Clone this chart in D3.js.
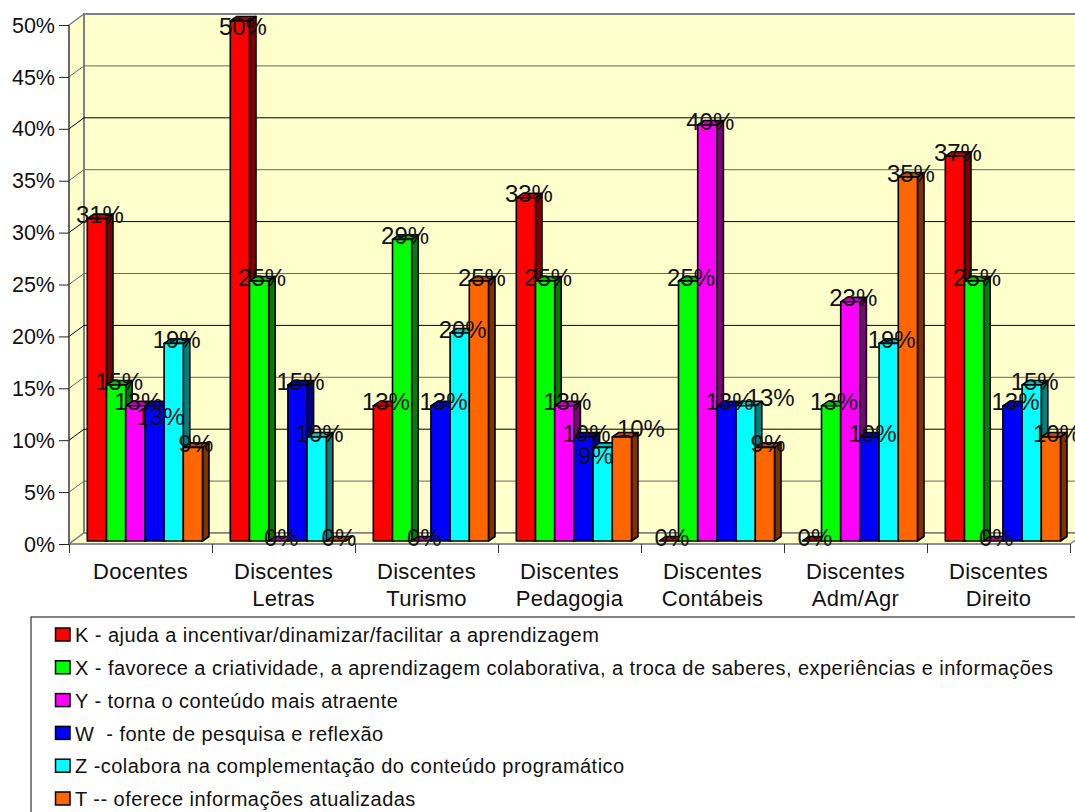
<!DOCTYPE html>
<html><head><meta charset="utf-8">
<script src="https://cdn.jsdelivr.net/npm/d3@7"></script>
<style>html,body{margin:0;padding:0;background:#fff;overflow:hidden}svg{display:block}text{font-family:"Liberation Sans",Arial,sans-serif;fill:#111;white-space:pre}</style>
</head><body><svg id="c" width="1075" height="812"></svg>
<script>
const categories = ["Docentes","Discentes\nLetras","Discentes\nTurismo","Discentes\nPedagogia","Discentes\nContábeis","Discentes\nAdm/Agr","Discentes\nDireito"];
const seriesNames = ["K - ajuda a incentivar/dinamizar/facilitar a aprendizagem",
 "X - favorece a criatividade, a aprendizagem colaborativa, a troca de saberes, experiências e informações",
 "Y - torna o conteúdo mais atraente",
 "W  - fonte de pesquisa e reflexão",
 "Z -colabora na complementação do conteúdo programático",
 "T -- oferece informações atualizadas"];
const K = [31,50,13,33,0,0,37];
const X = [15,25,29,25,25,13,25];
const Y = [13,0,0,13,40,23,0];
const W = [13,15,13,10,13,10,13];
const Z = [19,10,20,9,13,19,15];
const T = [9,0,25,10,9,35,10];
const seriesValues = [K,X,Y,W,Z,T];
const faceColors = ["#FF0000","#00FF00","#FF00FF","#0000FF","#00FFFF","#FF6600"];
const sideColors = ["#800000","#008000","#800080","#000080","#008080","#803300"];
const topColors  = ["#C00000","#00C000","#C000C0","#0000C0","#00C0C0","#C04D00"];
const yTicks = [0,5,10,15,20,25,30,35,40,45,50];
// hand-moved data labels in the source: [series, category, dx, dy]
const labelNudges = [[3,0,3,15],[0,1,0,9],[4,4,22,-4],[5,3,16,-5],[4,3,-10,12],[5,6,3,0]];

const svg = d3.select("#c");
const x0=69,yFront0=544,yFront50=25,depthX=15,depthY=11,catW=143;
const x = d3.scaleBand().domain(d3.range(categories.length)).range([x0,x0+catW*categories.length]);
const yAxisS = d3.scaleLinear().domain([0,50]).range([yFront0,yFront50]);
const yBar = d3.scaleLinear().domain([0,50]).range([541,21]);
const inner = d3.scaleBand().domain(d3.range(6)).range([18.3,133.5]);
const xEnd = x.range()[1];

// walls
const wall="#FFFFCC", edge="#808080";
svg.append("path").attr("d",`M${x0},${yFront50}L${x0+depthX},${yFront50-depthY}V${yFront0-depthY}L${x0},${yFront0}Z`).attr("fill",wall).attr("stroke",edge).attr("stroke-width",1.5);
svg.append("rect").attr("x",x0+depthX).attr("y",yFront50-depthY).attr("width",xEnd-x0).attr("height",yFront0-yFront50).attr("fill",wall).attr("stroke",edge).attr("stroke-width",2);
svg.append("path").attr("d",`M${x0},${yFront0}L${x0+depthX},${yFront0-depthY}H${xEnd+depthX}L${xEnd},${yFront0}Z`).attr("fill",wall).attr("stroke",edge).attr("stroke-width",1.5);

// gridlines
yTicks.filter(t=>t>0&&t<50).forEach((t,i)=>{
  const yy=yAxisS(t);
  const c=i%2?"#000":"#666";
  svg.append("path").attr("d",`M${x0},${yy}L${x0+depthX},${yy-depthY}H${xEnd+depthX}`).attr("fill","none").attr("stroke",c).attr("stroke-width",1);
});

// axes
const yAx = svg.append("g").attr("transform",`translate(${x0},0)`).call(d3.axisLeft(yAxisS).tickValues(yTicks).tickSize(10).tickPadding(4).tickFormat(d=>d+"%"));
yAx.selectAll("text").attr("font-size",21.5).attr("dy","0.33em");
yAx.selectAll("line").attr("stroke","#222");
yAx.select(".domain").attr("stroke","#333").attr("d",`M0,${yFront50}V${yFront0}`);

const xLin = d3.scaleLinear().domain([0,7]).range([x0,xEnd]);
const xTick = svg.append("g").attr("transform",`translate(0,${yFront0})`).call(d3.axisBottom(xLin).ticks(7).tickSize(9).tickFormat(""));
xTick.selectAll("line").attr("stroke","#333");
xTick.select(".domain").attr("stroke","#808080").attr("d",`M${x0},0H${xEnd}`);

const xLab = svg.append("g").attr("transform",`translate(0,${yFront0})`).call(d3.axisBottom(x).tickSize(0).tickFormat(""));
xLab.select(".domain").remove();
xLab.selectAll(".tick").each(function(d){
  const g=d3.select(this);
  g.select("text").remove();
  categories[d].split("\n").forEach((s,i)=>{
    g.append("text").attr("text-anchor","middle").attr("y",35+i*27).attr("font-size",22).attr("letter-spacing",0.25).text(s);
  });
});

// bars
const dx=6.5, dy=4.5;
categories.forEach((c,j)=>{
  seriesValues.forEach((vals,i)=>{
    const v=vals[j], l=x(j)+inner(i), w=inner.bandwidth(), t=yBar(v), b=yBar(0);
    const g=svg.append("g").attr("stroke","#000").attr("stroke-width",1.6).attr("stroke-linejoin","round");
    g.append("path").attr("d",`M${l+w},${t}l${dx},${-dy}V${b-dy}l${-dx},${dy}Z`).attr("fill",sideColors[i]);
    g.append("path").attr("d",`M${l},${t}l${dx},${-dy}H${l+w+dx}l${-dx},${dy}Z`).attr("fill",topColors[i]);
    g.append("rect").attr("x",l).attr("y",t).attr("width",w).attr("height",b-t).attr("fill",faceColors[i]);
  });
});

// data labels
categories.forEach((c,j)=>{
  seriesValues.forEach((vals,i)=>{
    const n=labelNudges.find(a=>a[0]===i&&a[1]===j)||[0,0,0,0];
    svg.append("text").attr("x",x(j)+inner(i)+inner.bandwidth()/2+3+n[2]).attr("y",yBar(vals[j])-4+n[3])
      .attr("dy","0.36em").attr("text-anchor","middle").attr("font-size",24).text(vals[j]+"%");
  });
});

// legend
const lg=svg.append("g");
lg.append("rect").attr("x",31).attr("y",617).attr("width",1100).attr("height",260).attr("fill","#fff").attr("stroke","#333").attr("stroke-width",1.2);
const rowY=d3.scalePoint().domain(d3.range(6)).range([635,799]);
seriesNames.forEach((s,i)=>{
  lg.append("rect").attr("x",55.5).attr("y",rowY(i)-7).attr("width",14.5).attr("height",13).attr("fill",faceColors[i]).attr("stroke","#000").attr("stroke-width",1.5);
  lg.append("text").attr("x",75).attr("y",rowY(i)).attr("dy","0.36em").attr("font-size",20).attr("letter-spacing",0.46).text(s);
});
</script></body></html>
